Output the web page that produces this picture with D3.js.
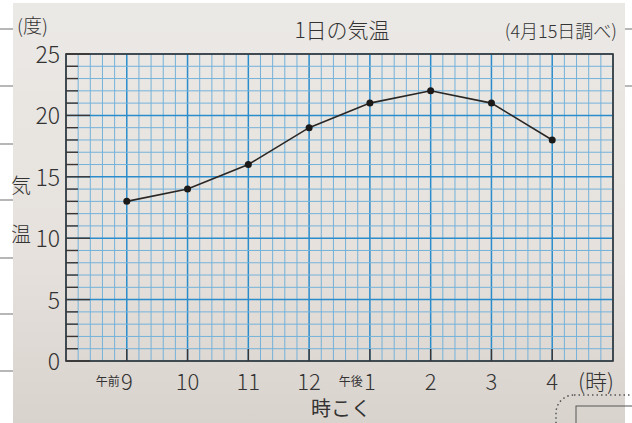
<!DOCTYPE html>
<html>
<head>
<meta charset="utf-8">
<script src="https://cdn.jsdelivr.net/npm/d3@7"></script>
<style>
  body { margin: 0; background: #fff; }
  text { font-family: "Noto Sans CJK JP", "Noto Sans", sans-serif; fill: #333; }
</style>
</head>
<body>
<div id="chart"></div>
<script>
// data
const hours = [9, 10, 11, 12, 13, 14, 15, 16];
const hourLabels = ["9", "10", "11", "12", "1", "2", "3", "4"];
const hourPrefix = ["午前", "", "", "", "午後", "", "", ""];
const temps = [13, 14, 16, 19, 21, 22, 21, 18];
const yTicks = [0, 5, 10, 15, 20, 25];

// svg set up
let svgWidth = 632;
let svgHeight = 423;
let plot = { left: 66, right: 613, top: 54, bottom: 361 };

let svg = d3.select("#chart")
    .append("svg")
    .attr("width", svgWidth)
    .attr("height", svgHeight);

// paper background
let defs = svg.append("defs");
let grad = defs.append("linearGradient")
    .attr("id", "paper")
    .attr("x1", 0).attr("y1", 0).attr("x2", 0).attr("y2", 1);
grad.append("stop").attr("offset", "0%").attr("stop-color", "#ebe9e6");
grad.append("stop").attr("offset", "60%").attr("stop-color", "#e6e1dc");
grad.append("stop").attr("offset", "100%").attr("stop-color", "#d9d3ce");

svg.append("rect")
    .attr("x", 13).attr("y", 3)
    .attr("width", 612).attr("height", 420)
    .attr("fill", "url(#paper)");

// page lines on the side strips
[29, 86, 144, 200, 258, 314, 371].forEach(y => {
    svg.append("line")
        .attr("x1", 0).attr("x2", 13)
        .attr("y1", y).attr("y2", y)
        .attr("stroke", "#888").attr("stroke-width", 1.2);
});
[29, 86].forEach(y => {
    svg.append("line")
        .attr("x1", 625).attr("x2", 632)
        .attr("y1", y).attr("y2", y)
        .attr("stroke", "#888").attr("stroke-width", 1.2);
});

// scales
let x = d3.scaleLinear().domain([8, 17]).range([plot.left, plot.right]);
let y = d3.scaleLinear().domain([0, 25]).range([plot.bottom, plot.top]);

let grid = svg.append("g");

// minor vertical lines every 12 minutes
d3.range(8, 17.001, 0.2).forEach(h => {
    let major = Math.abs(h - Math.round(h)) < 1e-6;
    grid.append("line")
        .attr("x1", x(h)).attr("x2", x(h))
        .attr("y1", plot.top).attr("y2", plot.bottom)
        .attr("stroke", major ? "#2b8ccc" : "#74b2da")
        .attr("stroke-width", major ? 1.5 : 1);
});
// horizontal lines every degree
d3.range(0, 26).forEach(t => {
    let major = t % 5 === 0;
    grid.append("line")
        .attr("x1", plot.left).attr("x2", plot.right)
        .attr("y1", y(t)).attr("y2", y(t))
        .attr("stroke", major ? "#2b8ccc" : "#74b2da")
        .attr("stroke-width", major ? 1.5 : 1);
});

// black frame and tick marks
let axisColor = "#3a3533";
svg.append("rect")
    .attr("x", plot.left).attr("y", plot.top)
    .attr("width", plot.right - plot.left).attr("height", plot.bottom - plot.top)
    .attr("fill", "none").attr("stroke", axisColor).attr("stroke-width", 1.6);

d3.range(0, 26).forEach(t => {
    svg.append("line")
        .attr("x1", plot.left)
        .attr("x2", t % 5 === 0 ? plot.left + 24 : plot.left + 12)
        .attr("y1", y(t)).attr("y2", y(t))
        .attr("stroke", axisColor).attr("stroke-width", 1.4);
});
hours.forEach(h => {
    svg.append("line")
        .attr("x1", x(h)).attr("x2", x(h))
        .attr("y1", plot.bottom).attr("y2", plot.bottom - 12)
        .attr("stroke", axisColor).attr("stroke-width", 1.4);
});

// y tick labels
svg.selectAll(".ylab")
    .data(yTicks)
    .enter()
    .append("text")
    .attr("x", 60)
    .attr("y", d => y(d) + 9)
    .attr("text-anchor", "end")
    .attr("font-size", 23)
    .attr("font-weight", 300)
    .text(d => d);

// x tick labels
svg.selectAll(".xlab")
    .data(hours)
    .enter()
    .append("text")
    .attr("x", d => x(d))
    .attr("y", 390)
    .attr("text-anchor", "middle")
    .attr("font-size", 22)
    .attr("font-weight", 300)
    .text((d, i) => hourLabels[i]);

svg.selectAll(".xpre")
    .data(hours.filter((d, i) => hourPrefix[i] !== ""))
    .enter()
    .append("text")
    .attr("x", d => x(d) - 7)
    .attr("y", 386)
    .attr("text-anchor", "end")
    .attr("font-size", 12)
    .text(d => hourPrefix[hours.indexOf(d)]);

// labels and titles
svg.append("text").attr("x", 17).attr("y", 33)
    .attr("font-size", 19).attr("font-weight", 300).text("(度)");
svg.append("text").attr("x", 11).attr("y", 193)
    .attr("font-size", 20).attr("font-weight", 300).text("気");
svg.append("text").attr("x", 11).attr("y", 242)
    .attr("font-size", 20).attr("font-weight", 300).text("温");
svg.append("text").attr("x", 578).attr("y", 390)
    .attr("font-size", 22).attr("font-weight", 300).text("(時)");
svg.append("text").attr("x", 342).attr("y", 38)
    .attr("text-anchor", "middle")
    .attr("font-size", 21).attr("font-weight", 300).text("1日の気温");
svg.append("text").attr("x", 617).attr("y", 38)
    .attr("text-anchor", "end")
    .attr("font-size", 18).attr("font-weight", 300).text("(4月15日調べ)");
svg.append("text").attr("x", 341).attr("y", 416)
    .attr("text-anchor", "middle")
    .attr("font-size", 20).attr("font-weight", 400).text("時こく");

// dotted box at bottom right
svg.append("rect")
    .attr("x", 556).attr("y", 395)
    .attr("width", 110).attr("height", 60)
    .attr("rx", 18)
    .attr("fill", "none")
    .attr("stroke", "#555").attr("stroke-width", 1.5)
    .attr("stroke-dasharray", "1.5,3");
svg.append("rect")
    .attr("x", 576).attr("y", 406)
    .attr("width", 80).attr("height", 40)
    .attr("fill", "none")
    .attr("stroke", "#555").attr("stroke-width", 1);

// temperature line and points
let line = d3.line()
    .x((d, i) => x(hours[i]))
    .y(d => y(d));

svg.append("path")
    .datum(temps)
    .attr("d", line)
    .attr("fill", "none")
    .attr("stroke", "#2a2624")
    .attr("stroke-width", 1.6);

svg.selectAll(".pt")
    .data(temps)
    .enter()
    .append("circle")
    .attr("cx", (d, i) => x(hours[i]))
    .attr("cy", d => y(d))
    .attr("r", 3.5)
    .attr("fill", "#1c1a19");
</script>
</body>
</html>
